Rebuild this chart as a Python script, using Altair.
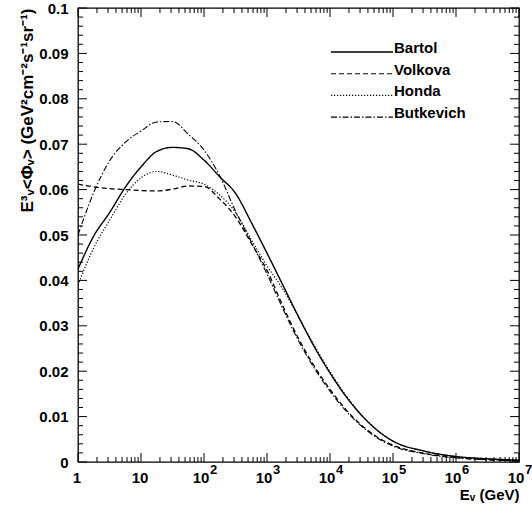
import altair as alt
import pandas as pd

# ---------------- data ----------------
energy = [1, 1.78, 3.16, 5.62, 10, 17.8, 31.6, 56.2, 100, 178, 316, 562,
          1e3, 1.78e3, 3.16e3, 5.62e3, 1e4, 1.78e4, 3.16e4, 5.62e4,
          1e5, 3.16e5, 1e6, 3.16e6, 1e7]

bartol = [0.0425, 0.0498, 0.0549, 0.0605, 0.0650, 0.0684, 0.0693, 0.0690,
          0.0665, 0.0628, 0.0592, 0.0528, 0.0460, 0.0390, 0.0320, 0.0254,
          0.0196, 0.0145, 0.0103, 0.0070, 0.0046, 0.0024, 0.0012, 0.0007, 0.0004]
volkova = [0.0612, 0.0606, 0.0602, 0.0600, 0.0598, 0.0597, 0.0601, 0.0608,
           0.0607, 0.0579, 0.0540, 0.0482, 0.0422, 0.0344, 0.0272, 0.0211,
           0.0160, 0.0116, 0.0081, 0.0055, 0.0037, 0.0019, 0.0010, 0.0005, 0.0003]
honda = [0.0390, 0.0472, 0.0532, 0.0589, 0.0626, 0.0640, 0.0632, 0.0621,
         0.0612, 0.0588, 0.0550, 0.0490, 0.0432, 0.0381, 0.0320, 0.0257,
         0.0199, 0.0147, 0.0104, 0.0070, 0.0046, 0.0024, 0.0012, 0.0007, 0.0004]
butkevich = [0.0500, 0.0594, 0.0663, 0.0704, 0.0729, 0.0749, 0.0750, 0.0722,
             0.0687, 0.0630, 0.0553, 0.0485, 0.0414, 0.0338, 0.0267, 0.0207,
             0.0156, 0.0113, 0.0079, 0.0053, 0.0035, 0.0018, 0.0009, 0.0005, 0.0003]

models = ["Bartol", "Volkova", "Honda", "Butkevich"]
dashes = [[1, 0], [5, 3], [1.2, 1.8], [6, 2, 1.5, 2]]
widths = [1.4, 1.1, 1.1, 1.1]

x_major = [1, 10, 100, 1e3, 1e4, 1e5, 1e6, 1e7]
x_base_labels = ["1", "10", "10", "10", "10", "10", "10", "10"]
x_sup_labels = ["", "", "2", "3", "4", "5", "6", "7"]
x_minor = [m * 10 ** k for k in range(7) for m in range(2, 10)]

y_major = [round(0.01 * i, 2) for i in range(11)]
y_minor = [round(0.002 * i, 3) for i in range(51) if i % 5 != 0]

# ---------------- layout ----------------
W, H = 441, 454
FONT = "Liberation Sans"

series = {"Bartol": bartol, "Volkova": volkova, "Honda": honda, "Butkevich": butkevich}
df = pd.concat([pd.DataFrame({"E": energy, "flux": v, "model": m}) for m, v in series.items()])

xscale = alt.Scale(type="log", domain=[1, 1e7], nice=False)
yscale = alt.Scale(domain=[0, 0.1], nice=False, zero=False)

lines = alt.Chart(df).mark_line(clip=True, color="black", interpolate="monotone").encode(
    x=alt.X("E:Q", scale=xscale,
            axis=alt.Axis(labels=False, ticks=False, domain=False, grid=False,
                          title="Eᵥ (GeV)", titleFont=FONT, titleFontSize=15,
                          titleFontWeight="bold", titleColor="black",
                          titleAlign="right", titleAnchor="end", titleX=W, titleY=37,
                          titleBaseline="alphabetic")),
    y=alt.Y("flux:Q", scale=yscale,
            axis=alt.Axis(values=y_major, format=".2~f", ticks=False, tickSize=0,
                          domain=False, grid=False, labelPadding=10,
                          labelFont=FONT, labelFontSize=15, labelFontWeight="bold",
                          labelColor="black",
                          title="E³ᵥ<Φᵥ> (GeV²cm⁻²s⁻¹sr⁻¹)", titleFont=FONT,
                          titleFontSize=17, titleFontWeight="bold", titleColor="black",
                          titleAngle=-90, titleX=-46, titleY=0, titleAlign="right",
                          titleBaseline="alphabetic")),
    strokeDash=alt.StrokeDash("model:N", scale=alt.Scale(domain=models, range=dashes), legend=None),
    strokeWidth=alt.StrokeWidth("model:N", scale=alt.Scale(domain=models, range=widths), legend=None),
    detail="model:N",
)

# ---------------- inward ticks ----------------
xmaj = pd.DataFrame({"E": x_major})
xmin = pd.DataFrame({"E": x_minor})
ymaj = pd.DataFrame({"v": y_major})
ymin = pd.DataFrame({"v": y_minor})

def xticks(d, length):
    bottom = alt.Chart(d).mark_rule(color="black", strokeWidth=1).encode(
        x=alt.X("E:Q", scale=xscale), y=alt.value(H), y2=alt.value(H - length))
    top = alt.Chart(d).mark_rule(color="black", strokeWidth=1).encode(
        x=alt.X("E:Q", scale=xscale), y=alt.value(0), y2=alt.value(length))
    return bottom + top

def yticks(d, length):
    left = alt.Chart(d).mark_rule(color="black", strokeWidth=1).encode(
        y=alt.Y("v:Q", scale=yscale), x=alt.value(0), x2=alt.value(length))
    right = alt.Chart(d).mark_rule(color="black", strokeWidth=1).encode(
        y=alt.Y("v:Q", scale=yscale), x=alt.value(W), x2=alt.value(W - length))
    return left + right

ticks = xticks(xmaj, 9) + xticks(xmin, 5) + yticks(ymaj, 9) + yticks(ymin, 5)

# ---------------- x tick labels (10 with raised exponent) ----------------
xlab = pd.DataFrame({"E": x_major, "base": x_base_labels, "sup": x_sup_labels})
plain = xlab[xlab["sup"] == ""]
powered = xlab[xlab["sup"] != ""]
txt = dict(font=FONT, fontWeight="bold", color="black", baseline="alphabetic")
plain_lab = alt.Chart(plain).mark_text(fontSize=15, dx=-1, **txt).encode(
    x=alt.X("E:Q", scale=xscale), y=alt.value(H + 21), text="base:N")
base_lab = alt.Chart(powered).mark_text(fontSize=15, dx=-3, **txt).encode(
    x=alt.X("E:Q", scale=xscale), y=alt.value(H + 21), text="base:N")
sup_lab = alt.Chart(powered).mark_text(fontSize=13, dx=6, align="left", **txt).encode(
    x=alt.X("E:Q", scale=xscale), y=alt.value(H + 12), text="sup:N")

# ---------------- legend ----------------
leg_layers = []
for i, m in enumerate(models):
    yy = 44 + i * 21.7
    leg_layers.append(alt.Chart(pd.DataFrame({"model": [m]})).mark_rule(
        color="black", strokeDash=dashes[i], strokeWidth=widths[i]).encode(
        x=alt.value(253), x2=alt.value(315), y=alt.value(yy)))
    leg_layers.append(alt.Chart(pd.DataFrame({"model": [m]})).mark_text(
        font=FONT, fontSize=15, fontWeight="bold", color="black",
        align="left", baseline="alphabetic").encode(
        x=alt.value(316), y=alt.value(yy + 1), text="model:N"))

chart = alt.layer(lines, ticks, plain_lab, base_lab, sup_lab, *leg_layers).properties(
    width=W, height=H,
    autosize=alt.AutoSizeParams(type="none"),
    padding={"left": 78, "top": 8, "right": 13, "bottom": 48},
    background="white",
).configure_view(stroke="black", strokeWidth=1.3)

chart.save("out.html", embed_options={"renderer": "svg", "actions": False})
